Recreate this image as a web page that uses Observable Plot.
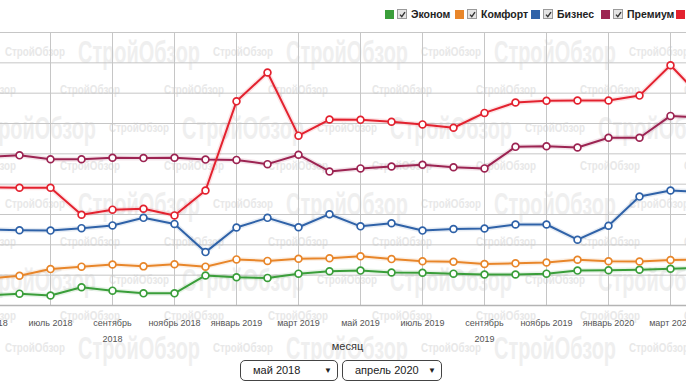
<!DOCTYPE html>
<html><head><meta charset="utf-8">
<script src="https://cdn.jsdelivr.net/npm/d3@7"></script>
<script src="https://cdn.jsdelivr.net/npm/@observablehq/plot@0.6"></script>
<style>
html,body{margin:0;padding:0;background:#fff;}
#wrap{position:relative;width:686px;height:386px;overflow:hidden;font-family:"Liberation Sans",Arial,sans-serif;}
#wm{position:absolute;left:0;top:0;}
#legend{position:relative;height:28px;}
.li{position:absolute;top:0;height:28px;display:flex;align-items:center;white-space:nowrap;font-size:10.5px;font-weight:bold;color:#222;}
.sq{width:9px;height:9px;margin-right:3px;}
.cb{width:8px;height:8px;border:1px solid #9a9a9a;background:#e4e4e4;margin-right:4px;display:flex;align-items:center;justify-content:center;}
#chart{position:relative;}
#chart svg{display:block;}
#controls{position:relative;height:28px;}
.sel{position:absolute;top:2px;box-sizing:border-box;height:21px;border:1px solid #444;border-radius:5px;background:#fff;font-size:11px;color:#222;line-height:19px;padding-left:12px;}
.sel .ar{position:absolute;right:5px;top:0;font-size:8px;color:#222;}
</style></head>
<body>
<div id="wrap">
<svg id="wm" width="686" height="386"></svg>
<div id="legend"></div>
<div id="chart"></div>
<div id="controls">
  <div class="sel" style="left:240px;width:98px;">май 2018<span class="ar">▼</span></div>
  <div class="sel" style="left:342px;width:100px;">апрель 2020<span class="ar">▼</span></div>
</div>
</div>
<script>
const months = ["май 2018","июнь 2018","июль 2018","август 2018","сентябрь 2018","октябрь 2018","ноябрь 2018","декабрь 2018","январь 2019","февраль 2019","март 2019","апрель 2019","май 2019","июнь 2019","июль 2019","август 2019","сентябрь 2019","октябрь 2019","ноябрь 2019","декабрь 2019","январь 2020","февраль 2020","март 2020","апрель 2020"];
const tickMonths = ["май 2018","июль 2018","сентябрь 2018","ноябрь 2018","январь 2019","март 2019","май 2019","июль 2019","сентябрь 2019","ноябрь 2019","январь 2020","март 2020"];
const seriesNames = ["Эконом","Комфорт","Бизнес","Премиум","Элит"];
const seriesColors = ["#3a9e3a","#e8862a","#2f62a8","#9c2452","#e3222f"];
const econom   = [33,39,33,60,49,40,40,99,93,91,105,113,115,109,108,105,102,102,105,115,116,118,121,124];
const comfort  = [89,98,120,128,135,129,136,128,152,147,154,156,162,153,146,144,137,139,142,151,146,145,150,152];
const business = [251,248,247,255,264,289,269,176,257,289,258,301,261,271,247,252,254,267,267,217,263,359,379,374];
const premium  = [490,495,482,482,487,486,487,481,480,466,497,442,452,458,464,456,452,523,525,521,553,553,625,620];
const elite    = [389,388,388,299,316,319,297,379,673,768,560,613,612,606,597,586,635,669,675,676,676,692,792,685];
const yTicks = [0,100,200,300,400,500,600,700,800,900];

const seriesValues = [econom, comfort, business, premium, elite];
const rows = seriesValues.flatMap((vals, s) => vals.map((v, i) => ({month: months[i], value: v, series: seriesNames[s]})));

// watermark (decorative background)
(function(){
  const svg = d3.select("#wm");
  const wmFont = "Liberation Sans Narrow, Liberation Sans, Arial, sans-serif";
  const bigY = [52,128,204,280,348];
  const smallY = [90,166,242,316];
  const big = (x, y) => svg.append("text").attr("x", x).attr("y", y).attr("font-family", wmFont).attr("font-weight","bold")
      .attr("font-size", 31).attr("textLength", 122).attr("lengthAdjust","spacingAndGlyphs").attr("fill","#efefef").text("СтройОбзор");
  const small = (x, y) => svg.append("text").attr("x", x).attr("y", y).attr("font-family", wmFont).attr("font-weight","bold")
      .attr("font-size", 13).attr("textLength", 60).attr("lengthAdjust","spacingAndGlyphs").attr("fill","#e8e8e8").text("СтройОбзор");
  bigY.forEach((y, r) => {
    const off = r % 2 === 0 ? 0 : -104;
    for (let k = 0; k < 4; k++) {
      const bx = 78 + off + 208*k;
      const sx = 5 + off + 208*k;
      if (bx < 686) big(bx, y + 11);
      if (sx < 686) small(sx, y + 4);
    }
  });
  smallY.forEach(y => {
    for (let k = -1; k < 7; k++) small(60 + 104*k, y + 4);
  });
})();

// legend
const legendLefts = [385, 455, 531, 601, 676];
const legend = document.getElementById("legend");
seriesNames.forEach((name, i) => {
  const li = document.createElement("div");
  li.className = "li";
  li.style.left = legendLefts[i] + "px";
  li.innerHTML = `<span class="sq" style="background:${seriesColors[i]}"></span><span class="cb"><svg width="7" height="7" viewBox="0 0 7 7"><polyline points="1,3.6 2.8,5.6 6,1.2" fill="none" stroke="#333" stroke-width="1.4"/></svg></span><span>${name}</span>`;
  legend.appendChild(li);
});

const fmt = d => d.startsWith("сентябрь") ? d.replace(" ", "\n") : d;

const chart = Plot.plot({
  width: 686,
  height: 330,
  marginLeft: 0,
  marginRight: 0,
  marginTop: 4,
  marginBottom: 53,
  style: {background: "transparent", fontFamily: "Liberation Sans, Arial, sans-serif", fontSize: "9px", overflow: "hidden"},
  x: {type: "point", domain: months, range: [-16, 705], padding: 0, axis: null},
  y: {domain: [0, 900], axis: null},
  color: {domain: seriesNames, range: seriesColors},
  marks: [
    Plot.gridY(yTicks, {stroke: "#c6c6c6", strokeOpacity: 1}),
    Plot.gridX(tickMonths, {stroke: "#c6c6c6", strokeOpacity: 1}),
    Plot.ruleY([0], {stroke: "#b4b4b4", strokeWidth: 1.5}),
    Plot.axisX(tickMonths, {tickSize: 0, tickPadding: 9, fontSize: 9, lineHeight: 1.78, fill: "#555", tickFormat: fmt, label: null}),
    Plot.line(rows, {x: "month", y: "value", z: "series", stroke: "series", strokeWidth: 5, strokeOpacity: 0.12}),
    Plot.line(rows, {x: "month", y: "value", z: "series", stroke: "series", strokeWidth: 2}),
    Plot.dot(rows, {x: "month", y: "value", stroke: "series", fill: "white", r: 3.4, strokeWidth: 1.7}),
    Plot.text(["месяц"], {text: d => d, frameAnchor: "bottom", dx: 4, dy: 44, fontSize: 11, fill: "#333"})
  ]
});
document.getElementById("chart").appendChild(chart);
</script>
</body></html>
